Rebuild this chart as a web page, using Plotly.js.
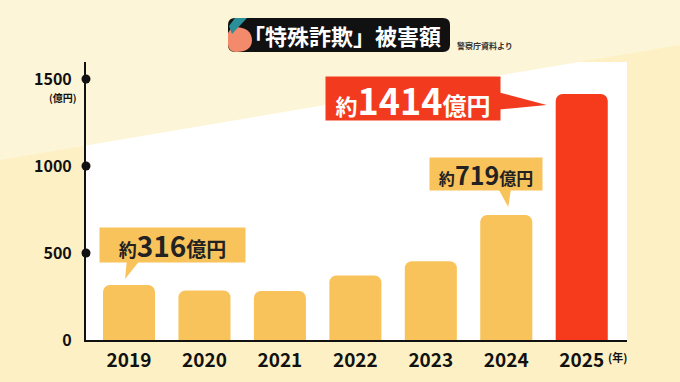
<!DOCTYPE html>
<html>
<head>
<meta charset="utf-8">
<script src="https://cdn.plot.ly/plotly-3.0.1.min.js"></script>
<style>html,body{margin:0;padding:0;background:#fcf0c4;}#chart{width:680px;height:382px;}</style>
</head>
<body>
<div id="chart"></div>
<script>
// ---- data ----
const years = ["2019", "2020", "2021", "2022", "2023", "2024", "2025"];
const damage = [316, 285, 282, 371, 453, 719, 1414];
const barColors = ["#f9c35c", "#f9c35c", "#f9c35c", "#f9c35c", "#f9c35c", "#f9c35c", "#f63b1d"];
const yTicks = [0, 500, 1000, 1500];
const yTickLabels = ["0", "500", "1000", "1500"];
const calloutIdx = [0, 5, 6];
const calloutNums = ["316", "719", "1414"];

// ---- layout geometry ----
const L = 86, R = 627, T = 62, B = 340;
const W = R - L, H = B - T;
const px = x => (x - L) / W;
const py = y => (B - y) / H;
const FONT = '"Noto Sans CJK JP", "Noto Sans", sans-serif';

const trace = {
  type: 'bar',
  x: years,
  y: damage,
  marker: { color: barColors, cornerradius: 7 },
  hoverinfo: 'none'
};

const shapes = [];
// light background band
shapes.push({type:'path', xref:'paper', yref:'paper', layer:'below',
  path:`M ${px(0)},${py(0)} L ${px(680)},${py(0)} L ${px(680)},${py(45)} L ${px(0)},${py(160)} Z`,
  fillcolor:'#fdf5d8', line:{width:0}});
// title box
(function(){
  const x0=228,x1=450,y0=18,y1=52,r=7;
  shapes.push({type:'path', xref:'paper', yref:'paper',
    path:`M ${px(x0+r)},${py(y0)} L ${px(x1-r)},${py(y0)} Q ${px(x1)},${py(y0)} ${px(x1)},${py(y0+r)} L ${px(x1)},${py(y1-r)} Q ${px(x1)},${py(y1)} ${px(x1-r)},${py(y1)} L ${px(x0+r)},${py(y1)} Q ${px(x0)},${py(y1)} ${px(x0)},${py(y1-r)} L ${px(x0)},${py(y0+r)} Q ${px(x0)},${py(y0)} ${px(x0+r)},${py(y0)} Z`,
    fillcolor:'#111111', line:{width:0}});
  // salmon circle segment
  shapes.push({type:'path', xref:'paper', yref:'paper',
    path:`M ${px(232)},${py(27)} Q ${px(252)},${py(26)} ${px(252)},${py(41)} Q ${px(251)},${py(52)} ${px(236)},${py(52)} Q ${px(229)},${py(52)} ${px(228)},${py(45)} L ${px(228)},${py(33)} Z`,
    fillcolor:'#f28a6b', line:{width:0}});
  // teal triangle
  shapes.push({type:'path', xref:'paper', yref:'paper',
    path:`M ${px(235)},${py(18)} L ${px(247)},${py(18)} L ${px(232)},${py(34)} L ${px(229)},${py(26)} Z`,
    fillcolor:'#2a8f98', line:{width:0}});
})();
// tick dots on y axis
yTicks.filter(v => v > 0).forEach(v => {
  shapes.push({type:'circle', xref:'paper', yref:'y', xsizemode:'pixel', ysizemode:'pixel',
    xanchor:0, yanchor:v, x0:-4.5, x1:4.5, y0:-4.5, y1:4.5,
    fillcolor:'#111', line:{width:0}});
});
// callout pointers (pixel offsets relative to bar top)
const pointerPaths = [
  'M -4,6 L -2,26 L 12,26 Z',
  'M 2,8 L -9,28 L 5,28 Z',
  'M -35,-11 L -88,3 L -88,-16 Z'
];
const pointerColors = ['#f9c35c', '#f9c35c', '#f23b1e'];
calloutIdx.forEach((i, k) => {
  shapes.push({type:'path', xref:'x', yref:'y', xsizemode:'pixel', ysizemode:'pixel',
    xanchor: i, yanchor: damage[i], path: pointerPaths[k],
    fillcolor: pointerColors[k], line:{width:0}});
});

// callout boxes
const boxSpec = [
  {dx:43, dy:40, w:145, h:34, fs:28, f1:18, f2:20, bg:'#f9c35c', fc:'#222222'},
  {dx:-20, dy:41, w:112, h:32, fs:25, f1:16, f2:17, bg:'#f9c35c', fc:'#222222'},
  {dx:-169, dy:-4, w:174, h:43, fs:36, f1:22, f2:24, bg:'#f23b1e', fc:'#ffffff'}
];
const annotations = calloutIdx.map((i, k) => {
  const s = boxSpec[k];
  return {
    xref:'x', yref:'y', x: i, y: damage[i], xshift: s.dx, yshift: s.dy,
    xanchor:'center', yanchor:'middle', showarrow:false,
    width: s.w, height: s.h, borderpad: 0, bgcolor: s.bg,
    text: `<span style="font-size:${s.f1}px">約</span>${calloutNums[k]}<span style="font-size:${s.f2}px">億円</span>`,
    font: {family: FONT, size: s.fs, color: s.fc, weight: 700}
  };
});
annotations.push(
  {xref:'paper', yref:'paper', x:px(342), y:py(35), showarrow:false, xanchor:'center', yanchor:'middle',
   text:'「特殊詐欺」被害額', font:{family:FONT, size:22, color:'#ffffff', weight:700}},
  {xref:'paper', yref:'paper', x:px(455), y:py(46), showarrow:false, xanchor:'left', yanchor:'middle',
   text:'警察庁資料より', font:{family:FONT, size:8, color:'#333333', weight:700}},
  {xref:'paper', yref:'paper', x:px(63), y:py(97), showarrow:false, xanchor:'center', yanchor:'middle',
   text:'(億円)', font:{family:FONT, size:10, color:'#111111', weight:700}},
  {xref:'x', yref:'paper', x:6, xshift:36, y:py(357), showarrow:false, xanchor:'center', yanchor:'middle',
   text:'(年)', font:{family:FONT, size:11, color:'#111111', weight:700}}
);

const layout = {
  width: 680, height: 382,
  margin: {l: L, r: 680 - R, t: T, b: 382 - B, pad: 0},
  paper_bgcolor: '#fcf0c4',
  plot_bgcolor: '#ffffff',
  bargap: 0.31,
  showlegend: false,
  xaxis: {
    type:'category', range:[-0.57, 6.6], showgrid:false, zeroline:false,
    showline:true, linecolor:'#111111', linewidth:2, ticks:'',
    ticklabelstandoff: 2,
    tickfont:{family:FONT, size:19, color:'#111111', weight:700}, fixedrange:true
  },
  yaxis: {
    range:[0, 1598], showgrid:false, zeroline:false,
    showline:true, linecolor:'#111111', linewidth:2, ticks:'',
    tickvals: yTicks, ticktext: yTickLabels, ticklabelstandoff: 9,
    tickfont:{family:FONT, size:16, color:'#111111', weight:700}, fixedrange:true
  },
  shapes: shapes,
  annotations: annotations
};

Plotly.newPlot('chart', [trace], layout, {displayModeBar:false, staticPlot:true});
</script>
</body>
</html>
